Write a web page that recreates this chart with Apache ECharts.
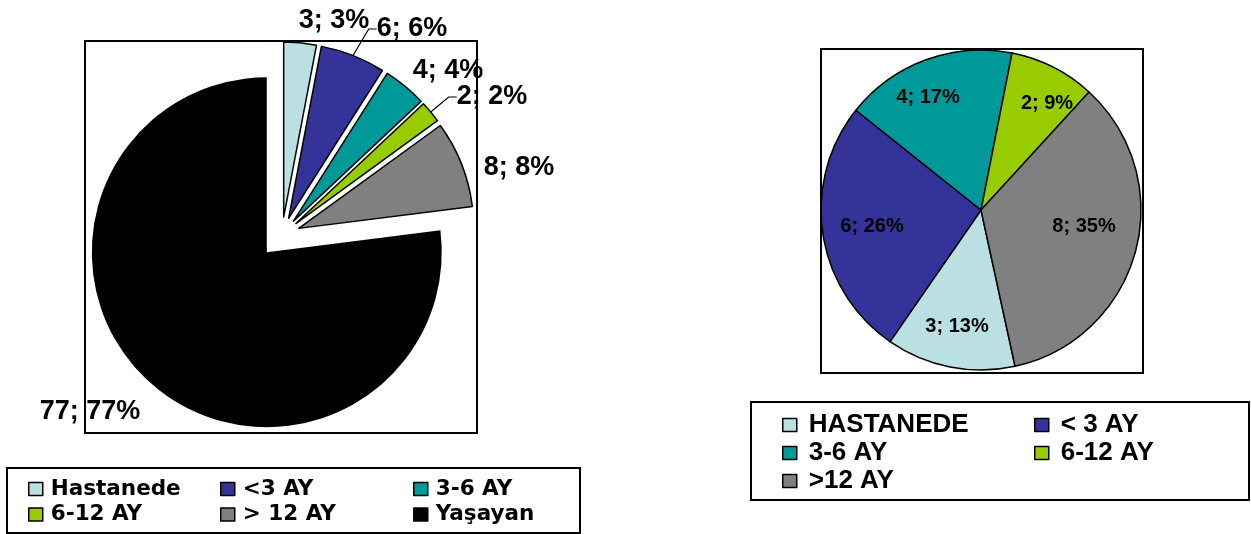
<!DOCTYPE html>
<html>
<head>
<meta charset="utf-8">
<script src="https://cdn.jsdelivr.net/npm/echarts@6/dist/echarts.min.js"></script>
<style>
  html, body { margin: 0; padding: 0; background: #fff; }
  #chart { width: 1251px; height: 534px; }
</style>
</head>
<body>
<div id="chart"></div>
<script>
// Left pie: all patients (n = 100)
const leftCategories = ['Hastanede', '<3 AY', '3-6 AY', '6-12 AY', '> 12 AY', 'Yaşayan'];
const leftValues = [3, 6, 4, 2, 8, 77];

// Right pie: deceased patients only (n = 23)
const rightCategories = ['HASTANEDE', '< 3 AY', '3-6 AY', '6-12 AY', '>12 AY'];
const rightValues = [3, 6, 4, 2, 8];

const sliceColors = ['#BBE0E3', '#333399', '#009999', '#99CC00', '#808080', '#000000'];

const ARIAL = "'Liberation Sans', Arial, sans-serif";
const WIDE = "'DejaVu Sans', Verdana, sans-serif";

// label anchors (text centres) and which labels get a leader line
const leftLabelAt = [[334, 21], [412, 29], [448, 71], [492, 97], [519, 168], [90, 412]];
const leftLeader = [false, true, false, true, false, false];
const rightLabelAt = [[957, 326], [872, 226], [928, 97], [1047, 103], [1084, 226]];

const LIVING = leftValues.length - 1;
const CLEAR = 'rgba(0,0,0,0)';
const LEFT_RADIUS = 175;
const SMALL_OFFSET = 18;

// The two slice series share every value so the angles line up; each one
// draws (and explodes) only its own part of the pie.
function leftSlices(bigPart) {
  return leftValues.map((v, i) => {
    const own = (i === LIVING) === bigPart;
    return {
      name: leftCategories[i],
      value: v,
      selected: own,
      itemStyle: own ? { color: sliceColors[i] } : { color: CLEAR, borderWidth: 0 }
    };
  });
}

const placeAt = (pts) => (p) => ({
  x: pts[p.dataIndex][0],
  y: pts[p.dataIndex][1],
  align: 'center',
  verticalAlign: 'middle'
});

const leftPieBase = {
  type: 'pie',
  center: [282, 235],
  radius: LEFT_RADIUS,
  startAngle: 90,
  clockwise: true,
  avoidLabelOverlap: false,
  percentPrecision: 0,
  emphasis: { disabled: true },
  label: { show: false },
  labelLine: { show: false }
};

function legendCol(names, colors, left, top, font, size, gap, pad) {
  return {
    orient: 'vertical',
    left: left,
    top: top,
    padding: 0,
    itemGap: gap,
    itemWidth: 14,
    itemHeight: 13,
    icon: 'rect',
    selectedMode: false,
    textStyle: { fontFamily: font, fontSize: size, fontWeight: 'bold', color: '#000',
                 padding: [0, 0, 0, pad] },
    data: names.map((n, k) => ({
      name: n,
      itemStyle: { color: colors[k], borderColor: '#000', borderWidth: 1.5 }
    }))
  };
}

const chart = echarts.init(document.getElementById('chart'), null, { renderer: 'canvas' });

chart.setOption({
  animation: false,
  backgroundColor: '#fff',
  graphic: [
    { type: 'rect', z: 0, shape: { x: 85, y: 41, width: 392, height: 392 },
      style: { fill: 'none', stroke: '#000', lineWidth: 2 } },
    { type: 'rect', z: 0, shape: { x: 7, y: 468, width: 573, height: 65 },
      style: { fill: 'none', stroke: '#000', lineWidth: 2 } },
    { type: 'rect', z: 0, shape: { x: 821, y: 49, width: 322, height: 324 },
      style: { fill: 'none', stroke: '#000', lineWidth: 2 } },
    { type: 'rect', z: 0, shape: { x: 751, y: 402, width: 498, height: 98 },
      style: { fill: 'none', stroke: '#000', lineWidth: 2 } }
  ],
  legend: [
    legendCol([leftCategories[0], leftCategories[3]], [sliceColors[0], sliceColors[3]], 28, 478, WIDE, 21.5, 3.5, 3),
    legendCol([leftCategories[1], leftCategories[4]], [sliceColors[1], sliceColors[4]], 220, 478, WIDE, 21.5, 3.5, 3),
    legendCol([leftCategories[2], leftCategories[5]], [sliceColors[2], sliceColors[5]], 413, 478, WIDE, 21.5, 3.5, 3),
    legendCol([rightCategories[0], rightCategories[2], rightCategories[4]],
              [sliceColors[0], sliceColors[2], sliceColors[4]], 782, 412, ARIAL, 26, 2, 7),
    legendCol([rightCategories[1], rightCategories[3]],
              [sliceColors[1], sliceColors[3]], 1034, 412, ARIAL, 26, 2, 7)
  ],
  series: [
    Object.assign({}, leftPieBase, {
      name: 'small',
      selectedMode: 'multiple',
      selectedOffset: SMALL_OFFSET,
      itemStyle: { borderColor: '#000', borderWidth: 1.5 },
      data: leftSlices(false)
    }),
    Object.assign({}, leftPieBase, {
      name: 'living',
      selectedMode: 'single',
      selectedOffset: 23,
      itemStyle: { borderWidth: 0 },
      data: leftSlices(true)
    }),
    // value labels of the left pie; the unpainted ring reaches the exploded
    // rim so leader lines start on the slice edge
    Object.assign({}, leftPieBase, {
      name: 'leftLabels',
      silent: true,
      z: 3,
      radius: LEFT_RADIUS + SMALL_OFFSET,
      itemStyle: { color: CLEAR, borderWidth: 0 },
      label: {
        show: true,
        position: 'outside',
        formatter: '{c}; {d}%',
        fontFamily: ARIAL,
        fontSize: 27,
        fontWeight: 'bold',
        color: '#000'
      },
      labelLine: { show: true, length: 10, length2: 8, lineStyle: { color: '#000', width: 1.2 } },
      labelLayout: placeAt(leftLabelAt),
      data: leftValues.map((v, i) => ({
        name: leftCategories[i],
        value: v,
        labelLine: { show: leftLeader[i] }
      }))
    }),
    {
      type: 'pie',
      name: 'deceased',
      center: [981, 210],
      radius: 160,
      startAngle: -77.7,
      clockwise: true,
      avoidLabelOverlap: false,
      percentPrecision: 0,
      emphasis: { disabled: true },
      itemStyle: { borderColor: '#000', borderWidth: 1.5 },
      label: {
        position: 'inside',
        formatter: '{c}; {d}%',
        fontFamily: ARIAL,
        fontSize: 20,
        fontWeight: 'bold',
        color: '#000'
      },
      labelLine: { show: false },
      labelLayout: placeAt(rightLabelAt),
      data: rightValues.map((v, i) => ({
        name: rightCategories[i],
        value: v,
        itemStyle: { color: sliceColors[i] }
      }))
    }
  ]
});
</script>
</body>
</html>
